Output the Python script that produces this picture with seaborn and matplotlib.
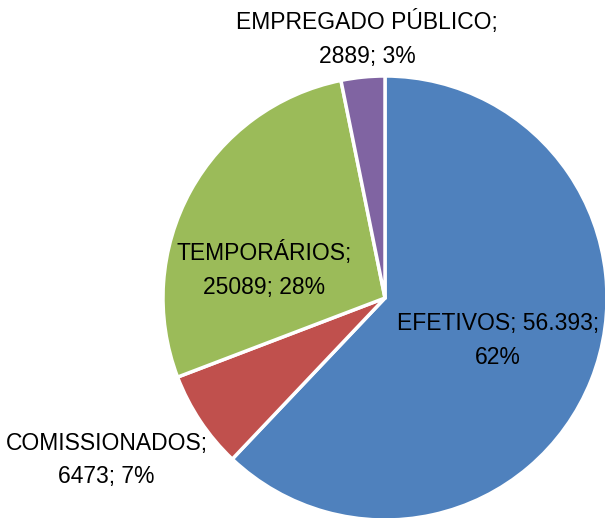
#!/usr/bin/env python3
# Pie chart of servidores por vínculo.

import matplotlib

matplotlib.use("Agg")
import matplotlib.pylab as plt
import seaborn as sns

sns.set_theme(style="white")
plt.rcParams["font.family"] = ["Liberation Sans", "DejaVu Sans"]

categories = ["EFETIVOS", "COMISSIONADOS", "TEMPORÁRIOS", "EMPREGADO PÚBLICO"]
values = [56393, 6473, 25089, 2889]
value_text = ["56.393", "6473", "25089", "2889"]
colors = ["#4F81BD", "#C0504D", "#9BBB59", "#8064A2"]

# label layout: text lines and anchor in pie-radius units
label_lines = [
    "{c}; {v};\n{p}",
    "{c};\n{v}; {p}",
    "{c};\n{v}; {p}",
    "{c};\n{v}; {p}",
]
label_pos = [(0.51, -0.19), (-1.255, -0.73), (-0.545, 0.125), (-0.08, 1.165)]

W, H = 605, 518
cx, cy, r = 385, 298, 222

fig = plt.figure(figsize=(W / 100, H / 100), dpi=100)
ax = fig.add_axes([0, 0, 1, 1])
ax.pie(
    values,
    colors=colors,
    startangle=90,
    counterclock=False,
    radius=1,
    wedgeprops=dict(edgecolor="white", linewidth=2.5),
)
ax.set_xlim(-cx / r, (W - cx) / r)
ax.set_ylim(-(H - cy) / r, cy / r)
ax.set_aspect("equal")
ax.axis("off")

total = sum(values)
for cat, val, vt, fmt, (x, y) in zip(categories, values, value_text, label_lines, label_pos):
    pct = f"{round(100 * val / total)}%"
    ax.text(
        x, y, fmt.format(c=cat, v=vt, p=pct),
        ha="center", va="center", fontsize=16.5, color="black", linespacing=1.6,
    )

fig.savefig("out.png", dpi=100)
